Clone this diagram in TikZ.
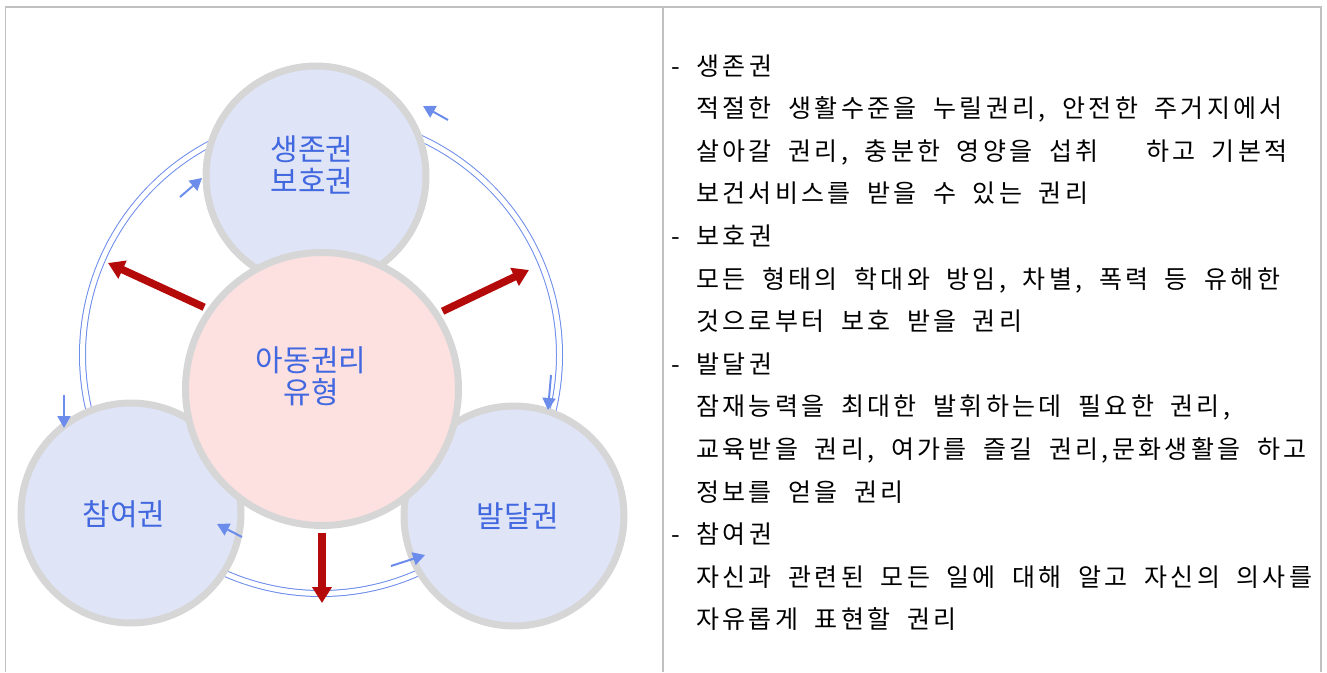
\documentclass[tikz,border=0pt]{standalone}
\usepackage{fontspec}
\usetikzlibrary{arrows.meta}
\newfontfamily\krtext[LetterSpace=13.4,WordSpace=1.85]{Noto Sans CJK KR}
\newfontfamily\krlabel{Noto Sans CJK KR}
\definecolor{ringblue}{RGB}{108,140,235}
\definecolor{labelblue}{RGB}{66,104,224}
\definecolor{bubblefill}{RGB}{223,228,247}
\definecolor{corefill}{RGB}{253,225,225}
\definecolor{rimgray}{RGB}{214,214,214}
\definecolor{pushred}{RGB}{180,10,10}
\definecolor{framegray}{RGB}{192,192,192}

\begin{document}
\begin{tikzpicture}[x=1pt,y=-1pt,
		bubble/.style={circle, draw=rimgray, line width=7pt, fill=bubblefill, minimum size=220pt, inner sep=0pt},
		lbl/.style={align=center, text=labelblue, inner sep=0pt, font=\krlabel\fontsize{30}{32}\selectfont},
		push/.style={pushred, line width=7.5pt, shorten <=3.5pt, -{Triangle[length=16pt,width=19pt]}},
		flow/.style={ringblue, line width=2pt, -{Triangle[length=12pt,width=13pt]}},
		txt/.style={anchor=base west, inner sep=0pt, font=\krtext\fontsize{25}{30}\selectfont}]
	\useasboundingbox (0,0) rectangle (1327,672);
	
	\draw[framegray, line width=1.5pt] (5.5,672) |- (1321,7) -- (1321,672);
	\draw[framegray, line width=1.5pt] (663,7) -- (663,672);
	
	\node[circle, draw=ringblue, line width=1pt, double=white, double distance=5pt, minimum size=477pt, inner sep=0pt] (ring) at (321,355) {};
	
	\node[bubble] (survive) at (316,176) {};
	\node[bubble] (join) at (131,513) {};
	\node[bubble] (grow) at (514,516) {};
	\node[bubble, fill=corefill, minimum size=273pt] (kern) at (322,389) {};
	
	\node[lbl] (survivetxt) at (312,165) {생존권\\보호권};
	\node[lbl] (kerntxt) at (311,376) {아동권리\\유형};
	\node[lbl] (jointxt) at (124,514) {참여권};
	\node[lbl] (growtxt) at (518,516) {발달권};
	
	\coordinate (tipL) at (108,263);
	\coordinate (tipR) at (529,270);
	\coordinate (tipD) at (322,603);
	\draw[push] (kern.145) -- (tipL);
	\draw[push] (kern.33) -- (tipR);
	\draw[push] (kern.270) -- (tipD);
	
	\foreach \sx/\sy/\ex/\ey [count=\i] in {448/120/423/106, 180/197/202/178, 64/395/64/428, 551/375/548/410, 242/537/217/524, 391/566/425/555}{
		\coordinate (flow\i a) at (\sx,\sy);
		\coordinate (flow\i b) at (\ex,\ey);
		\draw[flow] (flow\i a) -- (flow\i b);
	}
	
	\node[txt] (h1) at (671,75) {- 생존권};
	\node[txt] (l1) at (696,117.6) {적절한 생활수준을 누릴권리, 안전한 주거지에서};
	\node[txt] (l2) at (696,160.2) {살아갈 권리, 충분한 영양을 섭취\hspace{31pt} 하고 기본적};
	\node[txt] (l3) at (696,202.8) {보건서비스를 받을 수 있는 권리};
	\node[txt] (h2) at (671,245.4) {- 보호권};
	\node[txt] (l4) at (696,288) {모든 형태의 학대와 방임, 차별, 폭력 등 유해한};
	\node[txt] (l5) at (696,330.6) {것으로부터 보호 받을 권리};
	\node[txt] (h3) at (671,373.2) {- 발달권};
	\node[txt] (l6) at (696,415.8) {잠재능력을 최대한 발휘하는데 필요한 권리,};
	\node[txt] (l7) at (696,458.4) {교육받을 권리, 여가를 즐길 권리,문화생활을 하고};
	\node[txt] (l8) at (696,501) {정보를 얻을 권리};
	\node[txt] (h4) at (671,543.6) {- 참여권};
	\node[txt] (l9) at (696,586.2) {자신과 관련된 모든 일에 대해 알고 자신의 의사를};
	\node[txt] (l10) at (696,628.8) {자유롭게 표현할 권리};
	
\end{tikzpicture}
\end{document}
